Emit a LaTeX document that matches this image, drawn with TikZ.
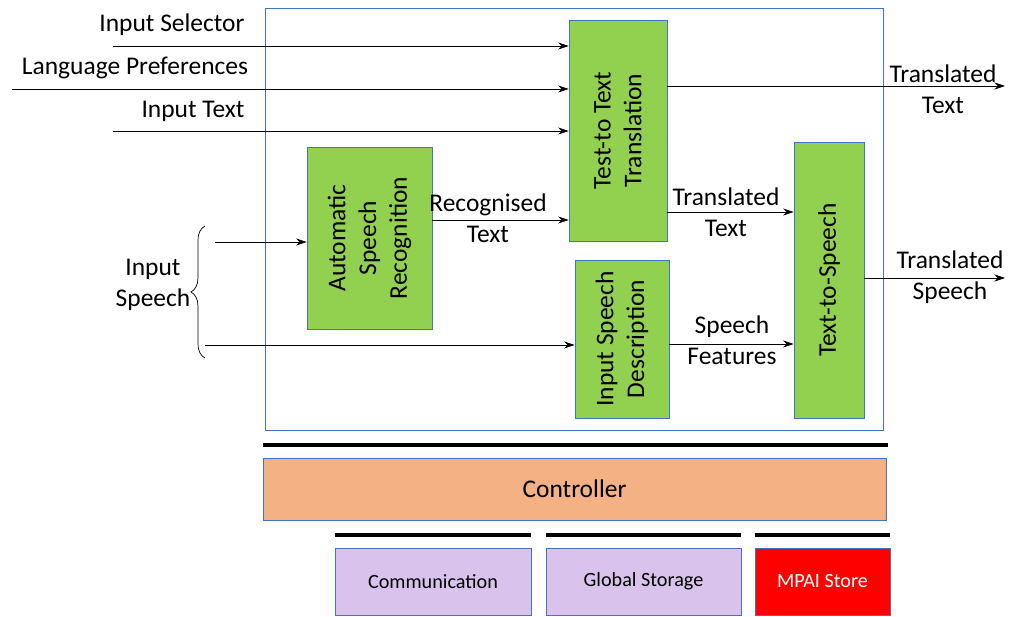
\documentclass[tikz,border=0pt]{standalone}
\usepackage{fontspec}
\setmainfont{Carlito}
\usetikzlibrary{decorations.pathreplacing,arrows.meta}
\definecolor{grn}{HTML}{92D050}
\definecolor{frm}{HTML}{4472C4}
\definecolor{org}{HTML}{F4B183}
\definecolor{lav}{HTML}{D9C3EC}
\begin{document}
\begin{tikzpicture}[x=0.02cm,y=-0.02cm,
  blk/.style={draw=frm,fill=grn,minimum width=0,inner sep=0},
  arr/.style={-{Stealth[length=6pt,width=4pt]},thin},
  lbl/.style={font=\fontsize{14.5}{17.5}\selectfont,align=center},
  bar/.style={line width=2pt},
  sm/.style={font=\fontsize{11.5}{14}\selectfont}]
\useasboundingbox (0,0) rectangle (1024,617);
\draw[frm] (265,8) rectangle (883,430);
\node[blk,minimum width=221*0.02cm,minimum height=98*0.02cm,rotate=90,lbl] (ttt) at (618,130.5) {Test-to Text\\Translation};
\node[blk,minimum width=182*0.02cm,minimum height=125*0.02cm,rotate=90,lbl] (asr) at (369.5,238) {Automatic\\Speech\\Recognition};
\node[blk,minimum width=158*0.02cm,minimum height=94*0.02cm,rotate=90,lbl] (isd) at (622,339) {Input Speech\\Description};
\node[blk,minimum width=276*0.02cm,minimum height=70*0.02cm,rotate=90,lbl] (tts) at (829,280) {Text-to-Speech};
\coordinate (s1) at (113,46); \coordinate (s2) at (12,89); \coordinate (s3) at (113,131);
\draw[arr] (s1) -- (s1 -| ttt.north); \node[lbl] (l1) at (172,25) {Input Selector};
\draw[arr] (s2) -- (s2 -| ttt.north); \node[lbl] (l2) at (135,68) {Language Preferences};
\draw[arr] (s3) -- (s3 -| ttt.north); \node[lbl] (l3) at (193,111) {Input Text};
\coordinate (o1) at (1005,86);
\draw[arr] (ttt.south |- o1) -- (o1); \node[lbl] (lo1) at (943,89) {Translated\\Text};
\draw[arr] (asr.south |- 0,220) -- (ttt.north |- 0,220); \node[lbl] (lr) at (488,218) {Recognised\\Text};
\draw[arr] (ttt.south |- 0,212) -- (tts.north |- 0,212); \node[lbl] (lt) at (726,212) {Translated\\Text};
\draw[arr] (isd.south |- 0,344) -- (tts.north |- 0,344); \node[lbl] (lsf) at (732,340) {Speech\\Features};
\coordinate (o2) at (1005,278);
\draw[arr] (tts.south |- o2) -- (o2); \node[lbl] (lo2) at (950,277) {Translated\\Speech};
\draw[decorate,decoration={brace,amplitude=8pt}] (205,358) -- (205,226);
\node[lbl] (lis) at (153,285) {Input\\Speech};
\coordinate (b1) at (215,242); \coordinate (b2) at (205,345);
\draw[arr] (b1) -- (b1 -| asr.north);
\draw[arr] (b2) -- (b2 -| isd.north);
\draw[bar] (263,445) -- (888,445);
\node[draw=frm,fill=org,minimum width=623*0.02cm,minimum height=62*0.02cm,lbl] (ctl) at (574.5,489) {Controller};
\draw[bar] (335,535) -- (531,535);
\draw[bar] (546,535) -- (741,535);
\draw[bar] (755,535) -- (890,535);
\node[draw=frm,fill=lav,minimum width=196*0.02cm,minimum height=67*0.02cm,sm] (com) at (433,581.5) {Communication};
\node[draw=frm,fill=lav,minimum width=195*0.02cm,minimum height=67*0.02cm,sm] (gs) at (643.5,581.5) {Global Storage};
\node[draw=frm,fill=red,text=white,minimum width=135*0.02cm,minimum height=67*0.02cm,sm] (mp) at (822.5,581.5) {MPAI Store};
\end{tikzpicture}
\end{document}
